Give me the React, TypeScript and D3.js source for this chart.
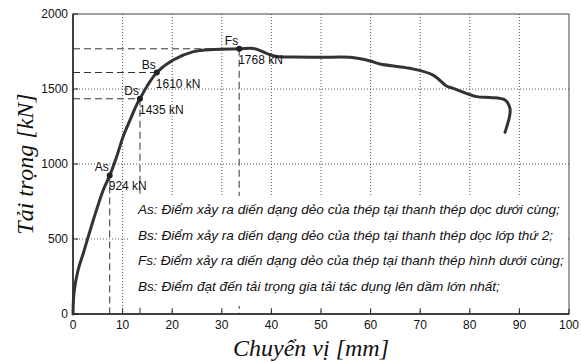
import React, { useEffect, useRef } from 'react';
import * as d3 from 'd3';

// displacement [mm], load [kN]
const dispMm = [0, 0.2, 1.0, 2.1, 4.1, 6.1, 7.4, 8.8, 10.1, 11.8, 12.8, 13.5, 14.9, 16.9, 20.2, 24.3, 28.3, 33.5, 36.4, 39, 41, 44.4, 50, 55.8, 59.9, 61.9, 67.9, 72.6, 75.3, 76.7, 81.4, 84.1, 87.1, 88.1, 88, 87.1];
const loadKn = [0, 140, 290, 407, 627, 827, 924, 1049, 1182, 1316, 1393, 1435, 1517, 1610, 1693, 1749, 1764, 1768, 1770, 1738, 1716, 1714, 1711, 1711, 1687, 1667, 1638, 1593, 1520, 1504, 1449, 1444, 1427, 1371, 1316, 1211];

const keyPoints = [
  { name: 'As', x: 7.4, y: 924, label: '924 kN', vLine: true, hLine: false },
  { name: 'Ds', x: 13.5, y: 1435, label: '1435 kN', vLine: true, hLine: true },
  { name: 'Bs', x: 16.9, y: 1610, label: '1610 kN', vLine: false, hLine: true },
  { name: 'Fs', x: 33.5, y: 1768, label: '1768 kN', vLine: true, hLine: true },
];

const xTicks = [0, 10, 20, 30, 40, 50, 60, 70, 80, 90, 100];
const yTicks = [0, 500, 1000, 1500, 2000];

const notes = [
  'As: Điểm xảy ra diến dạng dẻo của thép tại thanh thép dọc dưới cùng;',
  'Bs: Điểm xảy ra diến dạng dẻo của thép tại thanh thép dọc lớp thứ 2;',
  'Fs: Điểm xảy ra diến dạng dẻo của thép tại thanh thép hình dưới cùng;',
  'Bs: Điểm đạt đến tải trọng gia tải tác dụng lên dầm lớn nhất;',
];

const App = () => {
  const ref = useRef<SVGSVGElement>(null);

  useEffect(() => {
    const svg = d3.select(ref.current);
    svg.selectAll('*').remove();

    const width = 581;
    const height = 362;
    const margin = { top: 14, right: 12, bottom: 48, left: 73 };
    const w = width - margin.left - margin.right;
    const h = height - margin.top - margin.bottom;
    const sans = 'Liberation Sans, Arial, sans-serif';
    const serif = 'Liberation Serif, Times New Roman, serif';

    const g = svg.append('g').attr('transform', `translate(${margin.left},${margin.top})`);

    const x = d3.scaleLinear().domain([0, 100]).range([0, w]);
    const y = d3.scaleLinear().domain([0, 2000]).range([h, 0]);

    // grid
    g.selectAll('.gx').data(xTicks.slice(1, -1)).enter().append('line')
      .attr('x1', d => x(d)).attr('x2', d => x(d)).attr('y1', 0).attr('y2', h)
      .attr('stroke', '#555').attr('stroke-width', 1).attr('stroke-dasharray', '1,2');
    g.selectAll('.gy').data(yTicks.slice(1, -1)).enter().append('line')
      .attr('y1', d => y(d)).attr('y2', d => y(d)).attr('x1', 0).attr('x2', w)
      .attr('stroke', '#555').attr('stroke-width', 1).attr('stroke-dasharray', '1,2');

    // dashed guides
    keyPoints.filter(p => p.vLine).forEach(p => {
      g.append('line').attr('x1', x(p.x)).attr('x2', x(p.x)).attr('y1', y(p.y)).attr('y2', h)
        .attr('stroke', '#333').attr('stroke-dasharray', '7,4');
    });
    keyPoints.filter(p => p.hLine).forEach(p => {
      g.append('line').attr('x1', 0).attr('x2', x(p.x)).attr('y1', y(p.y)).attr('y2', y(p.y))
        .attr('stroke', '#333').attr('stroke-dasharray', '7,4');
    });

    // notes box
    g.append('rect').attr('x', 57).attr('y', 182).attr('width', w - 60).attr('height', 110)
      .attr('fill', '#fff');
    g.selectAll('.note').data(notes).enter().append('text')
      .attr('x', 65).attr('y', (d, i) => 200 + i * 25.7)
      .style('font-family', sans).style('font-style', 'italic').style('font-size', '13.6px')
      .style('fill', '#111').text(d => d);

    // frame + ticks
    g.append('rect').attr('width', w).attr('height', h).attr('fill', 'none')
      .attr('stroke', '#444').attr('stroke-width', 1);
    g.selectAll('.tx').data(xTicks).enter().append('line')
      .attr('x1', d => x(d)).attr('x2', d => x(d)).attr('y1', h).attr('y2', h - 5)
      .attr('stroke', '#222');
    g.selectAll('.ty').data(yTicks).enter().append('line')
      .attr('x1', 0).attr('x2', 5).attr('y1', d => y(d)).attr('y2', d => y(d))
      .attr('stroke', '#222');
    g.append('line').attr('x1', 0).attr('x2', 0).attr('y1', 0).attr('y2', h).attr('stroke', '#222').attr('stroke-width', 1.5);
    g.append('line').attr('x1', 0).attr('x2', w).attr('y1', h).attr('y2', h).attr('stroke', '#222').attr('stroke-width', 1.5);

    g.selectAll('.lx').data(xTicks).enter().append('text')
      .attr('x', d => x(d)).attr('y', h + 15).attr('text-anchor', 'middle')
      .style('font-family', sans).style('font-size', '12px').style('fill', '#111').text(d => d);
    g.selectAll('.ly').data(yTicks).enter().append('text')
      .attr('x', -5).attr('y', d => y(d) + 4).attr('text-anchor', 'end')
      .style('font-family', sans).style('font-size', '12px').style('fill', '#111').text(d => d);

    // curve
    const pts = dispMm.map((d, i) => [d, loadKn[i]] as [number, number]);
    g.append('path').datum(pts)
      .attr('d', d3.line<[number, number]>().x(d => x(d[0])).y(d => y(d[1])).curve(d3.curveCatmullRom))
      .attr('fill', 'none').attr('stroke', '#333').attr('stroke-width', 3)
      .attr('stroke-linejoin', 'round').attr('stroke-linecap', 'round');

    // key points
    keyPoints.forEach(p => {
      g.append('circle').attr('cx', x(p.x)).attr('cy', y(p.y)).attr('r', 3).attr('fill', '#222');
      g.append('text').attr('x', x(p.x) - 1).attr('y', y(p.y) - 4).attr('text-anchor', 'end')
        .style('font-family', sans).style('font-size', '12px').style('fill', '#111').text(p.name);
      g.append('text').attr('x', x(p.x) - 1).attr('y', y(p.y) + 15)
        .style('font-family', sans).style('font-size', '12px').style('fill', '#111').text(p.label);
    });

    // axis titles
    svg.append('text').attr('x', 311).attr('y', 356).attr('text-anchor', 'middle')
      .style('font-family', serif).style('font-style', 'italic').style('font-size', '24px')
      .style('fill', '#111').text('Chuyển vị [mm]');
    svg.append('text').attr('transform', `translate(33,${margin.top + h / 2}) rotate(-90)`)
      .attr('text-anchor', 'middle')
      .style('font-family', serif).style('font-style', 'italic').style('font-size', '24px')
      .style('fill', '#111').text('Tải trọng [kN]');
  }, []);

  return (
    <svg ref={ref} width={581} height={362}
      style={{ position: 'absolute', left: 0, top: 0, background: '#fff' }} />
  );
};

export default App;
